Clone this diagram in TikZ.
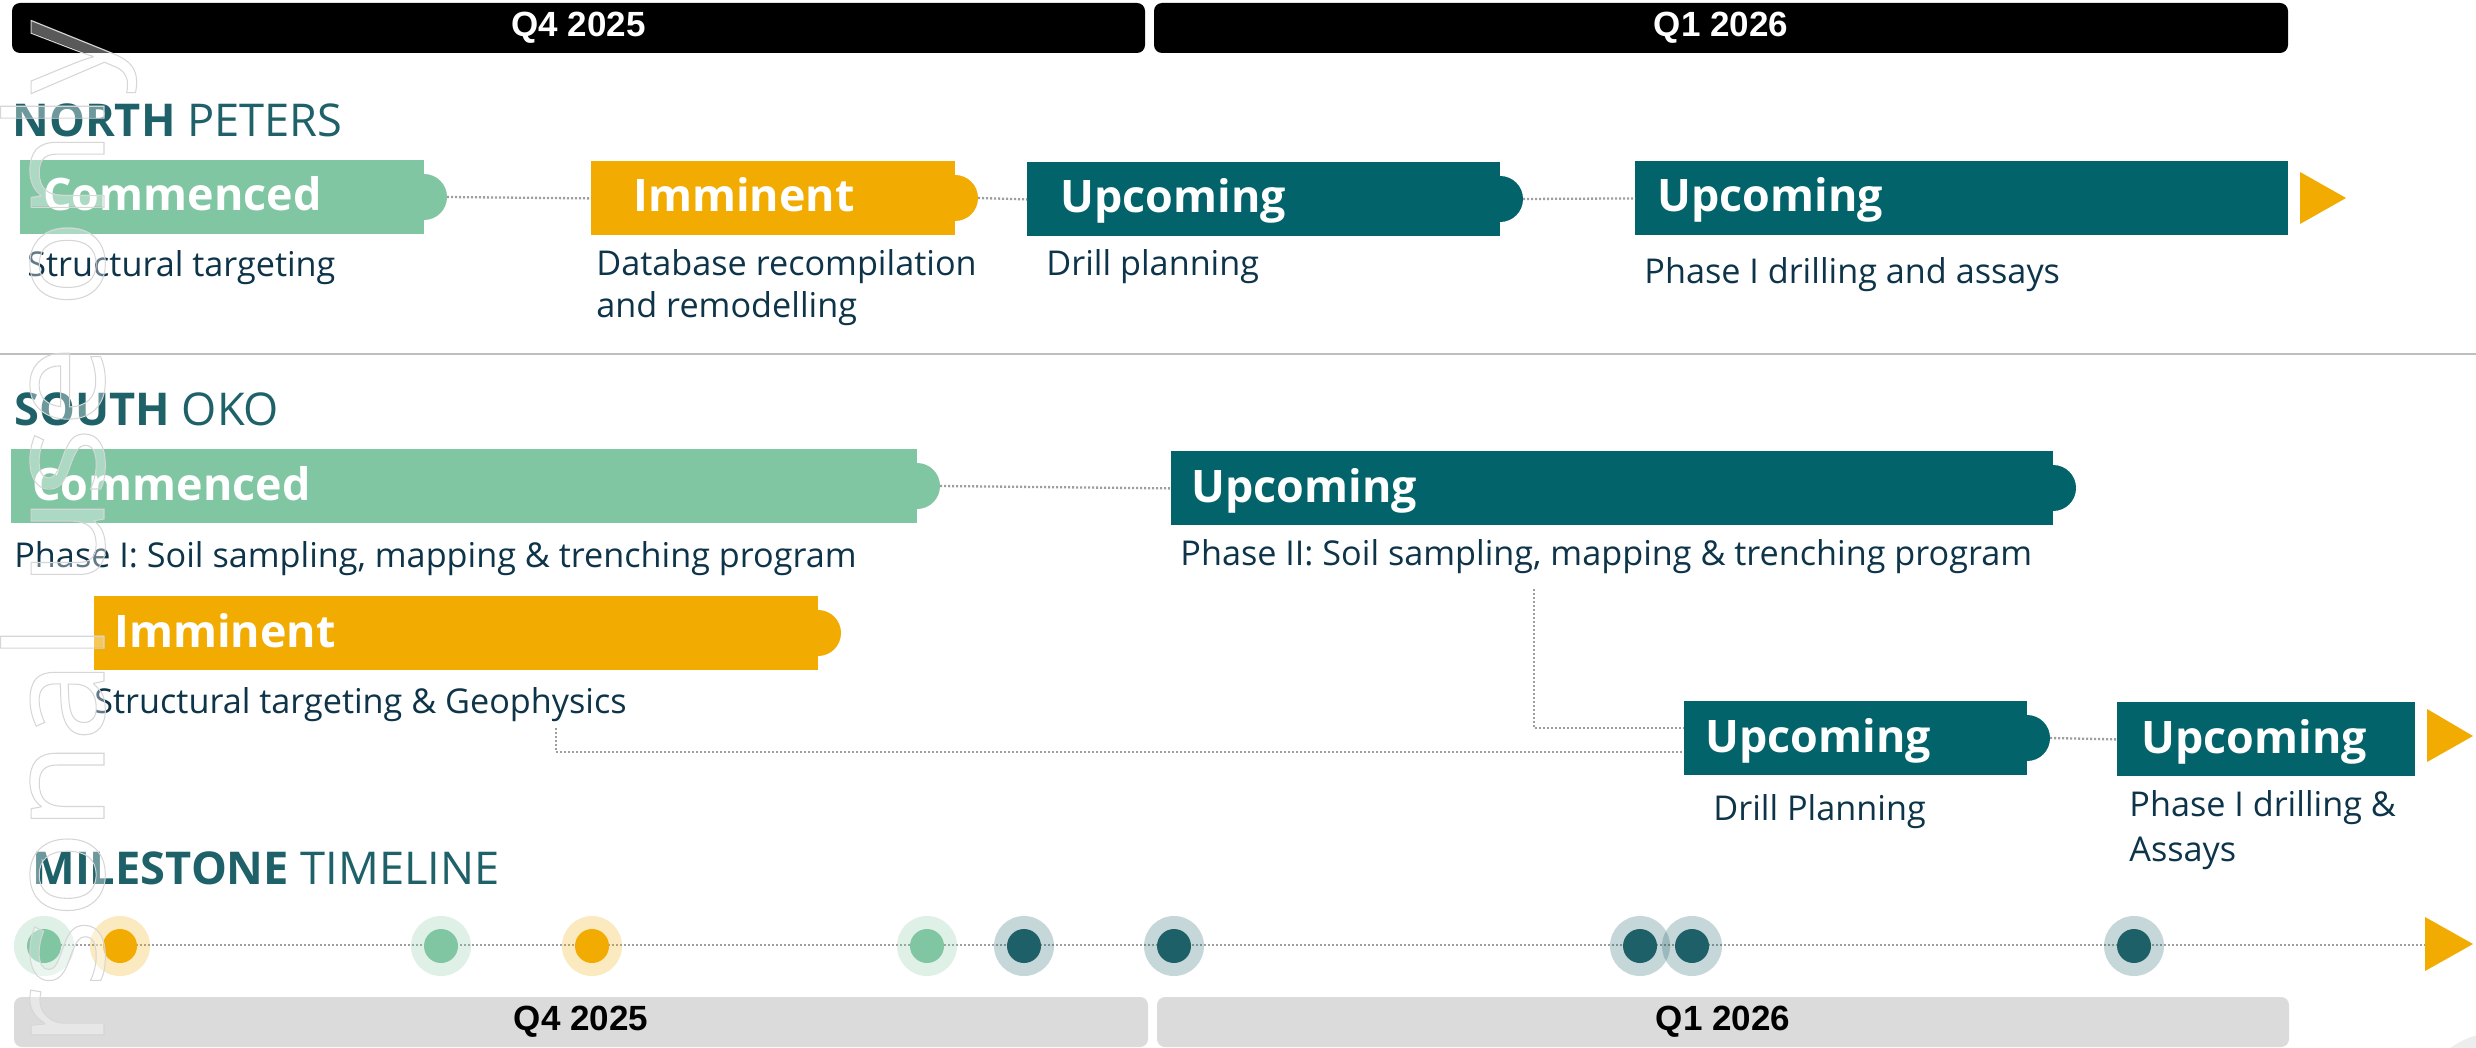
\documentclass[tikz,border=0pt]{standalone}
\usepackage{graphicx}
\usepackage{fontspec}
\setmainfont{Open Sans}
\newfontfamily\arialfont{Liberation Sans}
\definecolor{cteal}{HTML}{03636A}
\definecolor{cgreen}{HTML}{80C6A3}
\definecolor{corange}{HTML}{F2AB00}
\definecolor{chead}{HTML}{1F6168}
\definecolor{cdesc}{HTML}{0E3449}
\definecolor{cdot}{HTML}{9E9E9E}
\definecolor{cdkteal}{HTML}{1E6068}
\definecolor{cbar}{HTML}{DCDBDB}
\definecolor{csep}{HTML}{BFBFBF}
\tikzset{
  boxbase/.style={rectangle, inner sep=0pt, anchor=north west, minimum height=37pt},
  gbox/.style={boxbase, fill=cgreen},
  obox/.style={boxbase, fill=corange},
  tbox/.style={boxbase, fill=cteal},
  lbl/.style={anchor=base west, inner sep=0pt, text=white, font=\bfseries\fontsize{22.4}{26}\selectfont},
  desc/.style={anchor=base west, inner sep=0pt, text=cdesc, font=\fontsize{17.1}{21}\selectfont},
  head/.style={anchor=base west, inner sep=0pt, text=chead, font=\fontsize{22.6}{26}\selectfont},
  conn/.style={draw=cdot, line width=1.15pt, dash pattern=on 1.1pt off 0.9pt},
  qtop/.style={rectangle, rounded corners=4pt, fill=black, text=white, inner sep=0pt,
     minimum height=25pt, font=\arialfont\bfseries\fontsize{17.5}{20}\selectfont},
  qbot/.style={rectangle, rounded corners=4pt, fill=cbar, text=black, inner sep=0pt,
     minimum height=25pt, font=\arialfont\bfseries\fontsize{17.5}{20}\selectfont},
  halo/.style={circle, inner sep=0pt, minimum size=30pt, fill opacity=0.25},
  dotc/.style={circle, inner sep=0pt, minimum size=17pt},
  wmark/.style={rotate=90, anchor=base east, inner sep=0pt, font=\fontsize{68}{76}\selectfont}
}
\begin{document}
\begin{tikzpicture}[x=0.5pt,y=-0.5pt]
\useasboundingbox (0,0) rectangle (2476,1048);
\fill[white] (0,0) rectangle (2476,1048);
\clip (0,0) rectangle (2476,1048);

% quarter bars (top)
\node[qtop, minimum width=566.5pt] (qt1) at (578.5,28) {Q4 2025};
\node[qtop, minimum width=567pt] (qt2) at (1721,28) {Q1 2026};

% separator
\draw[csep, line width=1pt] (0,354) -- (2476,354);

% ---------------- NORTH PETERS ----------------
\node[head] (hN) at (12,137) {\textbf{NORTH} PETERS};

\fill[cgreen] (424,197) circle[radius=11.5pt];
\node[gbox, minimum width=202pt] (N1) at (20,160) {};
\coordinate (N1e) at (447,197);
\node[lbl] (N1l) at (43,211) {Commenced};
\node[desc] (N1d) at (27,276) {Structural targeting};

\fill[corange] (955,198) circle[radius=11.5pt];
\node[obox, minimum width=182pt] (N2) at (591,161) {};
\coordinate (N2e) at (978,198);
\node[lbl] (N2l) at (633,212) {Imminent};
\node[desc] (N2d) at (596,275) {\vtop{\hbox{Database recompilation}\hbox{and remodelling}}};

\fill[cteal] (1500,199) circle[radius=11.5pt];
\node[tbox, minimum width=236.5pt] (N3) at (1027,162) {};
\coordinate (N3e) at (1523,199);
\node[lbl] (N3l) at (1060,213) {Upcoming};
\node[desc] (N3d) at (1046,275) {Drill planning};

\node[tbox, minimum width=326.5pt] (N4) at (1635,161) {};
\node[lbl] (N4l) at (1657,212) {Upcoming};
\node[desc] (N4d) at (1644,283) {Phase I drilling and assays};
\fill[corange] (2300,172) -- (2346,198) -- (2300,224) -- cycle;

\draw[conn] (N1e) -- (N2.west);
\draw[conn] (N2e) -- (N3.west);
\draw[conn] (N3e) -- (N4.west);

% ---------------- SOUTH OKO ----------------
\node[head] (hS) at (14,425) {\textbf{SOUTH} OKO};

\fill[cgreen] (917,486) circle[radius=11.5pt];
\node[gbox, minimum width=453pt] (S1) at (11,449) {};
\coordinate (S1e) at (940,486);
\node[lbl] (S1l) at (32,500) {Commenced};
\node[desc] (S1d) at (14,567) {Phase I: Soil sampling, mapping \& trenching program};

\fill[cteal] (2053,488) circle[radius=11.5pt];
\node[tbox, minimum width=441pt] (S2) at (1171,451) {};
\coordinate (S2e) at (2076,488);
\node[lbl] (S2l) at (1191,502) {Upcoming};
\node[desc] (S2d) at (1180,565) {Phase II: Soil sampling, mapping \& trenching program};

\fill[corange] (818,633) circle[radius=11.5pt];
\node[obox, minimum width=362pt] (S3) at (94,596) {};
\coordinate (S3e) at (841,633);
\node[lbl] (S3l) at (114,647) {Imminent};
\node[desc] (S3d) at (94,713) {Structural targeting \& Geophysics};

\fill[cteal] (2027,738) circle[radius=11.5pt];
\node[tbox, minimum width=171.5pt] (S4) at (1684,701) {};
\coordinate (S4e) at (2050,738);
\node[lbl] (S4l) at (1705,752) {Upcoming};
\node[desc] (S4d) at (1713,820) {Drill Planning};

\node[tbox, minimum width=149pt] (S5) at (2117,702) {};
\node[lbl] (S5l) at (2141,753) {Upcoming};
\node[desc, font=\fontsize{17.1}{22.5}\selectfont] (S5d) at (2129,816) {\vtop{\hbox{Phase I drilling \&}\hbox{Assays}}};
\fill[corange] (2427,709) -- (2473,736) -- (2427,762) -- cycle;

\coordinate (c1) at (1534,589);
\coordinate (c2) at (556,728);
\draw[conn] (S1e) -- (S2.west);
\draw[conn] (c1) |- ([yshift=5.25pt]S4.west);
\draw[conn] (c2) |- ([yshift=-6.75pt]S4.west);
\draw[conn] (S4e) -- (S5.west);

% ---------------- MILESTONE TIMELINE ----------------
\node[head] (hM) at (32,884) {\textbf{MILESTONE} TIMELINE};
\coordinate (tls) at (44,945);
\coordinate (tle) at (2425,945);
\draw[conn] (tls) -- (tle);
\fill[corange] (2425,917) -- (2473,944) -- (2425,971) -- cycle;
\foreach \i/\px/\c in {1/44/cgreen, 2/120/corange, 3/441/cgreen,
   4/592/corange, 5/927/cgreen, 6/1024/cdkteal, 7/1174/cdkteal,
   8/1640/cdkteal, 9/1692/cdkteal, 10/2134/cdkteal}{
  \node[halo, fill=\c] (h\i) at (\px,946) {};
}
\foreach \i/\px/\c in {1/44/cgreen, 2/120/corange, 3/441/cgreen,
   4/592/corange, 5/927/cgreen, 6/1024/cdkteal, 7/1174/cdkteal,
   8/1640/cdkteal, 9/1692/cdkteal, 10/2134/cdkteal}{
  \node[dotc, fill=\c] (m\i) at (\px,946) {};
}

% quarter bars (bottom)
\node[qbot, minimum width=567pt] (qb1) at (581,1022) {Q4 2025};
\node[qbot, minimum width=566pt] (qb2) at (1723,1022) {Q1 2026};

% faint corner shape
\fill[black!7] (2500,1117) circle[radius=42.5pt];

% watermark (visible part)
\node[wmark, text=white, text opacity=0.35] (wm1) at (104,20) {\scalebox{1.07}[1]{rsonal use only}};
\node[wmark, text=black!16] (wm2) at (104,20) {\scalebox{1.07}[1]{\special{pdf:literal direct 1 Tr 0.5 w}rsonal use only\special{pdf:literal direct 0 Tr}}};
\end{tikzpicture}
\end{document}
